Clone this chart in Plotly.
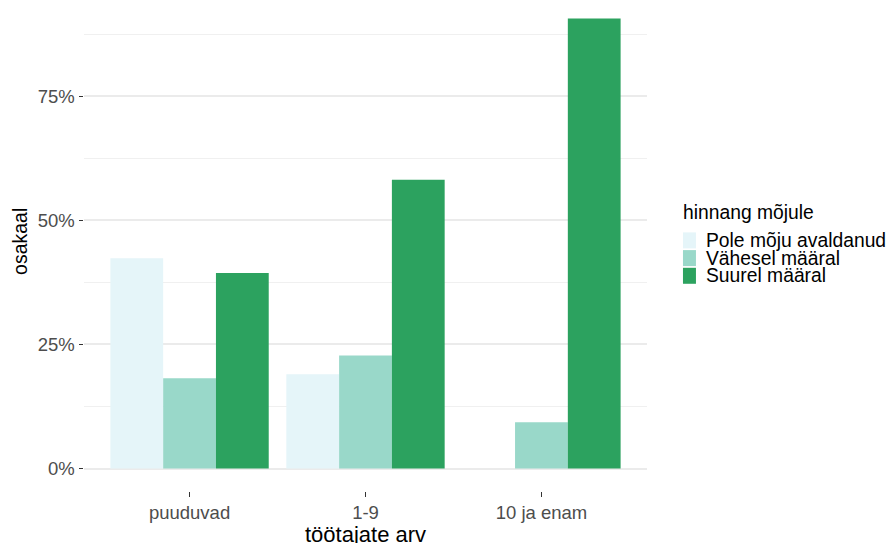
import plotly.graph_objects as go

# ---- data ----
categories = ["puuduvad", "1-9", "10 ja enam"]
series_names = ["Pole mõju avaldanud", "Vähesel määral", "Suurel määral"]
pole = [42.4, 19.0, 0.0]
vahesel = [18.2, 22.8, 9.3]
suurel = [39.4, 58.2, 90.7]
y_tickvals = [0, 25, 50, 75]
y_ticktext = ["0%", "25%", "50%", "75%"]
y_minor = [12.5, 37.5, 62.5, 87.5]
legend_title = "hinnang mõjule"
x_title = "töötajate arv"
y_title = "osakaal"

# ---- styles ----
colors = ["#e5f5f9", "#99d8c9", "#2ca25f"]
FONT = "Liberation Sans, Arial, sans-serif"
W, H = 889, 543
ML, MR, MT, MB = 84, 241.5, 0, 51.8
PW = W - ML - MR
PH = H - MT - MB

def px_x(p):
    return (p - ML) / PW

def px_y(p):
    return (MT + PH - p) / PH

fig = go.Figure()
for name, vals, col in zip(series_names, [pole, vahesel, suurel], colors):
    fig.add_trace(go.Bar(x=categories, y=vals, name=name,
                         marker=dict(color=col, line=dict(width=0)),
                         showlegend=False))

ymax_data = max(suurel)
fig.update_layout(
    width=W, height=H,
    margin=dict(l=ML, r=MR, t=MT, b=MB, pad=0, autoexpand=False),
    paper_bgcolor="white", plot_bgcolor="white",
    barmode="group", bargap=0.1, bargroupgap=0,
    font=dict(family=FONT, size=18.5, color="#4d4d4d"),
    xaxis=dict(
        type="category", range=[-0.6, 2.6], showgrid=False, zeroline=False,
        showline=False, ticks="outside", ticklen=4.5, tickwidth=1.3,
        tickcolor="#333333", tickfont=dict(size=18.5, color="#4d4d4d"),
        automargin=False,
    ),
    yaxis=dict(
        range=[-0.05 * ymax_data, 94.44],
        tickvals=y_tickvals, ticktext=y_ticktext,
        showgrid=True, gridcolor="#ebebeb", gridwidth=1.5,
        zeroline=False, showline=False,
        ticks="outside", ticklen=4.5, tickwidth=1.3, tickcolor="#333333",
        tickfont=dict(size=18.5, color="#4d4d4d"),
        minor=dict(tickvals=y_minor, showgrid=True, gridcolor="#f0f0f0",
                   gridwidth=0.8, ticks=""),
        automargin=False,
    ),
)

# ---- axis titles ----
fig.add_annotation(x=px_x(365.75), y=px_y(520), xref="paper", yref="paper",
                   text=x_title, showarrow=False, xanchor="center",
                   yanchor="top", font=dict(size=22, color="black"))
fig.add_annotation(x=px_x(20), y=px_y(242), xref="paper", yref="paper",
                   text=y_title, showarrow=False, textangle=-90,
                   xanchor="center", yanchor="middle",
                   font=dict(size=19.5, color="black"))

# ---- manual legend (tight ggplot-like spacing) ----
fig.add_annotation(x=px_x(681.5), y=px_y(213), xref="paper", yref="paper",
                   text=legend_title, showarrow=False, xanchor="left",
                   yanchor="middle", font=dict(size=19.3, color="black"))
row_y = [240.5, 258.2, 275.9]
for name, col, ry in zip(series_names, colors, row_y):
    fig.add_shape(type="rect", xref="paper", yref="paper",
                  x0=px_x(683.5), x1=px_x(696.5),
                  y0=px_y(ry + 8), y1=px_y(ry - 8),
                  fillcolor=col, line=dict(width=0))
    fig.add_annotation(x=px_x(704.5), y=px_y(ry), xref="paper", yref="paper",
                       text=name, showarrow=False, xanchor="left",
                       yanchor="middle", font=dict(size=19.3, color="black"))

fig.write_html(
    "out.html",
    config={"displayModeBar": False},
    post_script="document.body.style.margin='0';document.body.style.padding='0';",
)
